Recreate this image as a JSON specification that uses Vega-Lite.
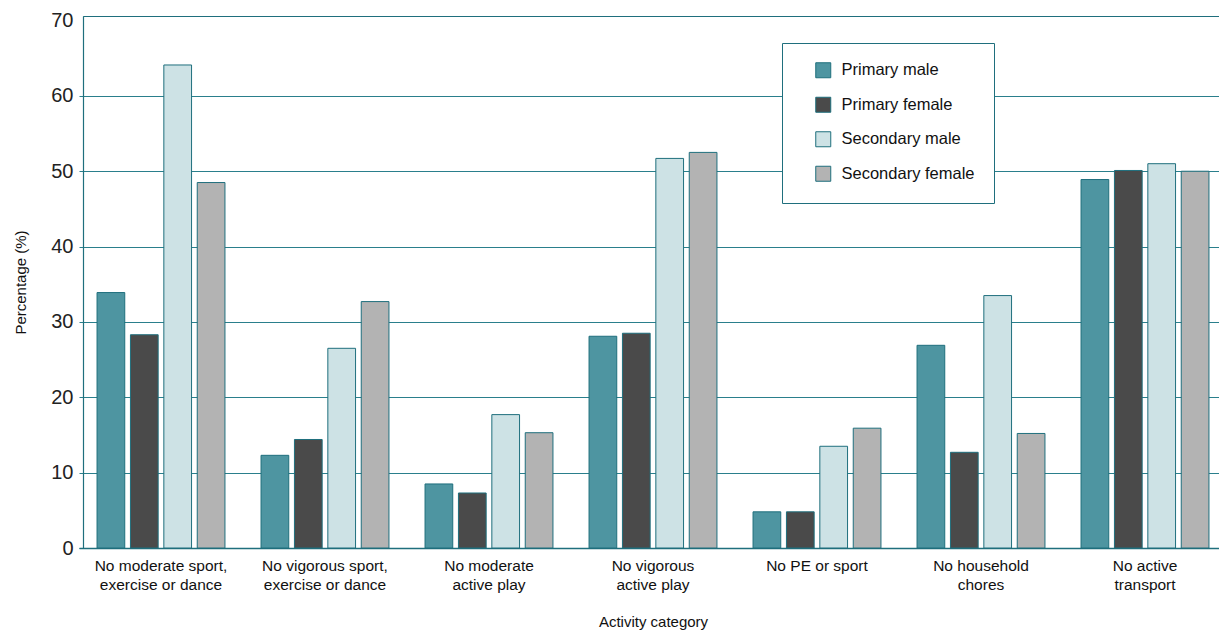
{
  "$schema": "https://vega.github.io/schema/vega-lite/v6.json",
  "width": 1136,
  "height": 532,
  "autosize": {"type": "none"},
  "padding": {"left": 83, "top": 16, "right": 0, "bottom": 83},
  "background": "white",
  "config": {
    "font": "Liberation Sans",
    "view": {"stroke": "#1f6f7d", "strokeWidth": 1}
  },
  "data": {
    "values": [
      {"cat": "No moderate sport,|exercise or dance", "group": "Primary male", "value": 33.9},
      {"cat": "No moderate sport,|exercise or dance", "group": "Primary female", "value": 28.3},
      {"cat": "No moderate sport,|exercise or dance", "group": "Secondary male", "value": 64.1},
      {"cat": "No moderate sport,|exercise or dance", "group": "Secondary female", "value": 48.5},
      {"cat": "No vigorous sport,|exercise or dance", "group": "Primary male", "value": 12.3},
      {"cat": "No vigorous sport,|exercise or dance", "group": "Primary female", "value": 14.4},
      {"cat": "No vigorous sport,|exercise or dance", "group": "Secondary male", "value": 26.5},
      {"cat": "No vigorous sport,|exercise or dance", "group": "Secondary female", "value": 32.7},
      {"cat": "No moderate|active play", "group": "Primary male", "value": 8.5},
      {"cat": "No moderate|active play", "group": "Primary female", "value": 7.3},
      {"cat": "No moderate|active play", "group": "Secondary male", "value": 17.7},
      {"cat": "No moderate|active play", "group": "Secondary female", "value": 15.3},
      {"cat": "No vigorous|active play", "group": "Primary male", "value": 28.1},
      {"cat": "No vigorous|active play", "group": "Primary female", "value": 28.5},
      {"cat": "No vigorous|active play", "group": "Secondary male", "value": 51.7},
      {"cat": "No vigorous|active play", "group": "Secondary female", "value": 52.5},
      {"cat": "No PE or sport", "group": "Primary male", "value": 4.8},
      {"cat": "No PE or sport", "group": "Primary female", "value": 4.8},
      {"cat": "No PE or sport", "group": "Secondary male", "value": 13.5},
      {"cat": "No PE or sport", "group": "Secondary female", "value": 15.9},
      {"cat": "No household|chores", "group": "Primary male", "value": 26.9},
      {"cat": "No household|chores", "group": "Primary female", "value": 12.7},
      {"cat": "No household|chores", "group": "Secondary male", "value": 33.5},
      {"cat": "No household|chores", "group": "Secondary female", "value": 15.2},
      {"cat": "No active|transport", "group": "Primary male", "value": 48.9},
      {"cat": "No active|transport", "group": "Primary female", "value": 50.1},
      {"cat": "No active|transport", "group": "Secondary male", "value": 51.0},
      {"cat": "No active|transport", "group": "Secondary female", "value": 50.0}
    ]
  },
  "mark": {"type": "bar", "stroke": "#1f6f7d", "strokeWidth": 1},
  "encoding": {
    "x": {
      "field": "cat",
      "type": "nominal",
      "sort": null,
      "scale": {"range": [-4, 1144], "paddingInner": 0.22, "paddingOuter": 0.11},
      "axis": {
        "title": "Activity category",
        "titleFontSize": 15,
        "titleFontWeight": "normal",
        "titleColor": "#111",
        "titlePadding": 22,
        "labelAngle": 0,
        "labelExpr": "split(datum.label, '|')",
        "labelFontSize": 15.5,
        "labelColor": "#111",
        "labelPadding": 10,
        "labelLineHeight": 19,
        "ticks": false,
        "domainColor": "#1f6f7d",
        "domainWidth": 1.5
      }
    },
    "xOffset": {
      "field": "group",
      "type": "nominal",
      "sort": ["Primary male", "Primary female", "Secondary male", "Secondary female"],
      "scale": {"paddingInner": 0.17}
    },
    "y": {
      "field": "value",
      "type": "quantitative",
      "scale": {"domain": [0, 70.6], "nice": false, "zero": true},
      "axis": {
        "title": "Percentage (%)",
        "titleFontSize": 15,
        "titleFontWeight": "normal",
        "titleColor": "#111",
        "titlePadding": 22,
        "values": [0, 10, 20, 30, 40, 50, 60, 70],
        "labelFontSize": 20,
        "labelColor": "#222",
        "labelPadding": 10,
        "ticks": false,
        "grid": true,
        "gridColor": "#2a7f8c",
        "gridOpacity": {"condition": {"test": "datum.value == 70", "value": 0}, "value": 1},
        "gridWidth": 1,
        "domainColor": "#1f6f7d",
        "domainWidth": 1.2
      }
    },
    "color": {
      "field": "group",
      "type": "nominal",
      "sort": ["Primary male", "Primary female", "Secondary male", "Secondary female"],
      "scale": {
        "domain": ["Primary male", "Primary female", "Secondary male", "Secondary female"],
        "range": ["#4e95a1", "#4a4a4a", "#cde2e5", "#b3b3b3"]
      },
      "legend": {
        "title": null,
        "orient": "none",
        "legendX": 699,
        "legendY": 27,
        "padding": 19,
        "symbolOffset": 14,
        "symbolType": "square",
        "symbolSize": 225,
        "symbolStrokeColor": "#1f6f7d",
        "symbolStrokeWidth": 1,
        "symbolOpacity": 1,
        "labelFontSize": 16.5,
        "labelColor": "#111",
        "labelOffset": 10,
        "labelExpr": "datum.label + '\u2003'",
        "rowPadding": 14.5,
        "strokeColor": "#1f6f7d",
        "fillColor": "white"
      }
    }
  }
}
